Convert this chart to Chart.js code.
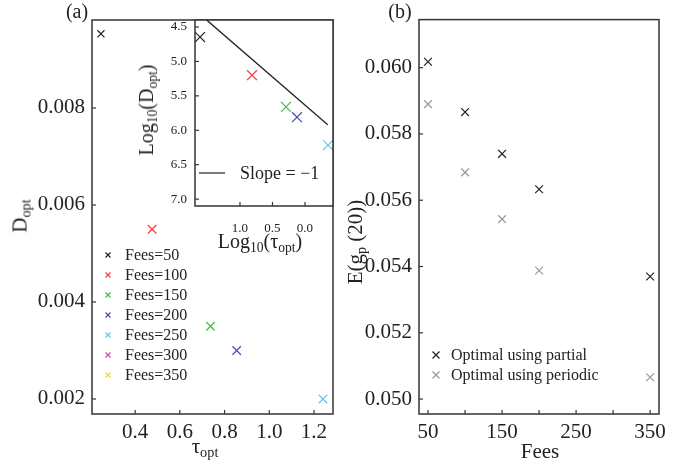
<!DOCTYPE html>
<html>
<head>
<meta charset="UTF-8">
<title>Optimal D and tau vs fees</title>
<script src="https://cdn.jsdelivr.net/npm/chart.js"></script>
<style>
  body { margin:0; background:#fff; width:693px; height:467px; position:relative; overflow:hidden;
         font-family:"Liberation Serif", "Times New Roman", serif; color:#222; }
  canvas { position:absolute; }
  .lbl { position:absolute; white-space:nowrap; transform:translate(-50%,-50%); line-height:1; }
  .rot { transform:translate(-50%,-50%) rotate(-90deg); }
  sub { font-size:68%; vertical-align:-0.3em; line-height:0; }
</style>
</head>
<body>
<canvas id="chartA" width="345" height="467" style="left:0;top:0"></canvas>
<canvas id="chartInset" width="215" height="240" style="left:130px;top:0"></canvas>
<canvas id="chartB" width="348" height="467" style="left:345px;top:0"></canvas>

<div class="lbl" style="left:77px;top:11px;font-size:20px">(a)</div>
<div class="lbl" style="left:400px;top:11px;font-size:20px">(b)</div>
<div class="lbl rot" style="left:20px;top:216px;font-size:21px">D<sub>opt</sub></div>
<div class="lbl" style="left:205px;top:446px;font-size:21px">τ<sub>opt</sub></div>
<div class="lbl rot" style="left:146px;top:110px;font-size:20px">Log<sub>10</sub>(D<sub>opt</sub>)</div>
<div class="lbl" style="left:260px;top:241px;font-size:20px">Log<sub>10</sub>(τ<sub>opt</sub>)</div>
<div class="lbl rot" style="left:355px;top:242px;font-size:21px">E(g<sub>p</sub> (20))</div>
<div class="lbl" style="left:540px;top:451px;font-size:21px">Fees</div>

<script>
// --- data ---
const fees = [50, 100, 150, 200, 250, 300, 350];
const feeColors = ['#222222', '#ff3b3b', '#44bb44', '#4a4ab8', '#66c8ec', '#cc4fae', '#e6e02a'];
const tauOpt = [0.247, 0.476, 0.737, 0.854, 1.24, null, null];
const dOpt = [0.00953, 0.0055, 0.0035, 0.0030, 0.0020, null, null];
const logTau = [1.615, 0.815, 0.292, 0.123, -0.354, null, null];
const logD = [4.645, 5.20, 5.66, 5.81, 6.215, null, null];
const slopeX = [1.51, -0.35];
const slopeY = [4.40, 5.92];

const feesB = [50, 100, 150, 200, 350];
const partialE = [0.06018, 0.05866, 0.0574, 0.05633, 0.0537];
const periodicE = [0.0589, 0.05684, 0.05543, 0.05388, 0.05066];

const ticksAX = [0.4, 0.6, 0.8, 1.0, 1.2];
const ticksAY = [0.002, 0.004, 0.006, 0.008];
const ticksInsetX = [0.0, 0.5, 1.0];
const ticksInsetY = [4.5, 5.0, 5.5, 6.0, 6.5, 7.0];
const ticksBX = [50, 100, 150, 200, 250, 300, 350];
const ticksBXLabels = [50, 150, 250, 350];
const ticksBY = [0.050, 0.052, 0.054, 0.056, 0.058, 0.060];

const serif = '"Liberation Serif", "Times New Roman", serif';
const ink = '#222';

// frame round the plot area, inward ticks, optional white fill, own legend
const framePlugin = {
  id: 'frame',
  beforeDraw(chart, args, opts) {
    if (!opts.fill) return;
    const a = chart.chartArea, ctx = chart.ctx;
    ctx.save();
    ctx.fillStyle = '#fff';
    ctx.fillRect(a.left, a.top, a.right - a.left, a.bottom - a.top);
    ctx.restore();
  },
  afterDraw(chart, args, opts) {
    const a = chart.chartArea, ctx = chart.ctx;
    ctx.save();
    ctx.strokeStyle = '#333';
    ctx.lineWidth = 1.5;
    ctx.strokeRect(a.left, a.top, a.right - a.left, a.bottom - a.top);
    ctx.lineWidth = 1.2;
    chart.scales.x.ticks.forEach(t => {
      const p = chart.scales.x.getPixelForValue(t.value);
      ctx.beginPath(); ctx.moveTo(p, a.bottom); ctx.lineTo(p, a.bottom - 4); ctx.stroke();
    });
    chart.scales.y.ticks.forEach(t => {
      const p = chart.scales.y.getPixelForValue(t.value);
      ctx.beginPath(); ctx.moveTo(a.left, p); ctx.lineTo(a.left + 4, p); ctx.stroke();
    });
    // legend
    const lg = opts.legend;
    if (lg) {
      ctx.font = lg.size + 'px ' + serif;
      ctx.textBaseline = 'middle';
      let row = 0;
      chart.data.datasets.forEach(ds => {
        if (!ds.label) return;
        const y = lg.y + row * lg.dy;
        ctx.strokeStyle = ds.borderColor || ds.pointBorderColor;
        ctx.lineWidth = 1.2;
        if (ds.showLine) {
          ctx.beginPath(); ctx.moveTo(lg.x - 10, y); ctx.lineTo(lg.x + 16, y); ctx.stroke();
        } else {
          const r = lg.mark;
          ctx.beginPath();
          ctx.moveTo(lg.x - r, y - r); ctx.lineTo(lg.x + r, y + r);
          ctx.moveTo(lg.x - r, y + r); ctx.lineTo(lg.x + r, y - r);
          ctx.stroke();
        }
        ctx.fillStyle = ink;
        ctx.fillText(ds.label, lg.textX, y + 1);
        row++;
      });
    }
    ctx.restore();
  }
};

function fixedTicks(list) {
  return s => { s.ticks = list.map(v => ({ value: v })); };
}

function axis(min, max, list, size, fmt, extra) {
  return Object.assign({
    type: 'linear', min: min, max: max,
    grid: { display: false, drawTicks: false },
    border: { display: false },
    afterBuildTicks: fixedTicks(list),
    ticks: { color: ink, font: { family: serif, size: size }, callback: fmt, maxRotation: 0, autoSkip: false }
  }, extra);
}

// --- (a) main panel ---
new Chart(document.getElementById('chartA'), {
  type: 'scatter',
  data: {
    datasets: fees.map((f, i) => ({
      label: 'Fees=' + f,
      data: tauOpt[i] == null ? [] : [{ x: tauOpt[i], y: dOpt[i] }],
      pointStyle: 'crossRot',
      pointRadius: i === 0 ? 5 : 6,
      pointBorderWidth: 1.2,
      borderColor: feeColors[i],
      backgroundColor: feeColors[i]
    }))
  },
  options: {
    responsive: false, animation: false,
    layout: { padding: { top: 20, right: 12, left: 0, bottom: 0 } },
    plugins: {
      legend: { display: false }, tooltip: { enabled: false },
      frame: { legend: { x: 108, y: 255, dy: 20, textX: 125, size: 16, mark: 2.5 } }
    },
    scales: {
      x: axis(0.207, 1.285, ticksAX, 21, v => v.toFixed(1), {
        afterFit: s => { s.height = 53; }, ticks: { color: ink, font: { family: serif, size: 21 }, padding: 6, callback: v => v.toFixed(1), maxRotation: 0, autoSkip: false }
      }),
      y: axis(0.00169, 0.009814, ticksAY, 21, v => v.toFixed(3), {
        afterFit: s => { s.width = 92; }, ticks: { color: ink, font: { family: serif, size: 21 }, padding: 7, callback: v => v.toFixed(3), autoSkip: false }
      })
    }
  },
  plugins: [framePlugin]
});

// --- (a) inset ---
const insetSets = fees.map((f, i) => ({
  data: logTau[i] == null ? [] : [{ x: logTau[i], y: logD[i] }],
  pointStyle: 'crossRot',
  pointRadius: 7,
  pointBorderWidth: 1.2,
  borderColor: feeColors[i],
  backgroundColor: feeColors[i]
}));
insetSets.push({
  label: 'Slope = \u22121',
  data: slopeX.map((x, i) => ({ x: x, y: slopeY[i] })),
  showLine: true,
  borderColor: ink,
  borderWidth: 1.3,
  pointRadius: 0
});

new Chart(document.getElementById('chartInset'), {
  type: 'scatter',
  data: { datasets: insetSets },
  options: {
    responsive: false, animation: false,
    layout: { padding: { top: 20, right: 12, left: 0, bottom: 0 } },
    plugins: {
      legend: { display: false }, tooltip: { enabled: false },
      frame: { fill: true, legend: { x: 79, y: 173, dy: 20, textX: 110, size: 18, mark: 4 } }
    },
    scales: {
      x: axis(-0.431, 1.692, ticksInsetX, 13, v => v.toFixed(1), {
        reverse: true,
        afterFit: s => { s.height = 34; }, ticks: { color: ink, font: { family: serif, size: 13 }, padding: 15, callback: v => v.toFixed(1), maxRotation: 0, autoSkip: false }
      }),
      y: axis(4.398, 7.10, ticksInsetY, 13, v => v.toFixed(1), {
        reverse: true,
        afterFit: s => { s.width = 65; }, ticks: { color: ink, font: { family: serif, size: 13 }, padding: 8, callback: v => v.toFixed(1), autoSkip: false }
      })
    }
  },
  plugins: [framePlugin]
});

// --- (b) ---
new Chart(document.getElementById('chartB'), {
  type: 'scatter',
  data: {
    datasets: [
      {
        label: 'Optimal using partial',
        data: feesB.map((f, i) => ({ x: f, y: partialE[i] })),
        pointStyle: 'crossRot', pointRadius: 5.5, pointBorderWidth: 1.2,
        borderColor: '#222', backgroundColor: '#222'
      },
      {
        label: 'Optimal using periodic',
        data: feesB.map((f, i) => ({ x: f, y: periodicE[i] })),
        pointStyle: 'crossRot', pointRadius: 5.5, pointBorderWidth: 1.2,
        borderColor: '#9a9a9a', backgroundColor: '#9a9a9a'
      }
    ]
  },
  options: {
    responsive: false, animation: false,
    layout: { padding: { top: 19, right: 34, left: 0, bottom: 0 } },
    plugins: {
      legend: { display: false }, tooltip: { enabled: false },
      frame: { legend: { x: 91, y: 355, dy: 20, textX: 106, size: 16, mark: 3.5 } }
    },
    scales: {
      x: axis(37.8, 362, ticksBX, 21, v => ticksBXLabels.includes(v) ? String(v) : '', {
        afterFit: s => { s.height = 53; }, ticks: { color: ink, font: { family: serif, size: 21 }, padding: 6, callback: v => ticksBXLabels.includes(v) ? String(v) : '', maxRotation: 0, autoSkip: false }
      }),
      y: axis(0.04955, 0.06145, ticksBY, 21, v => v.toFixed(3), {
        afterFit: s => { s.width = 74; }, ticks: { color: ink, font: { family: serif, size: 21 }, padding: 7, callback: v => v.toFixed(3), autoSkip: false }
      })
    }
  },
  plugins: [framePlugin]
});
</script>
</body>
</html>
